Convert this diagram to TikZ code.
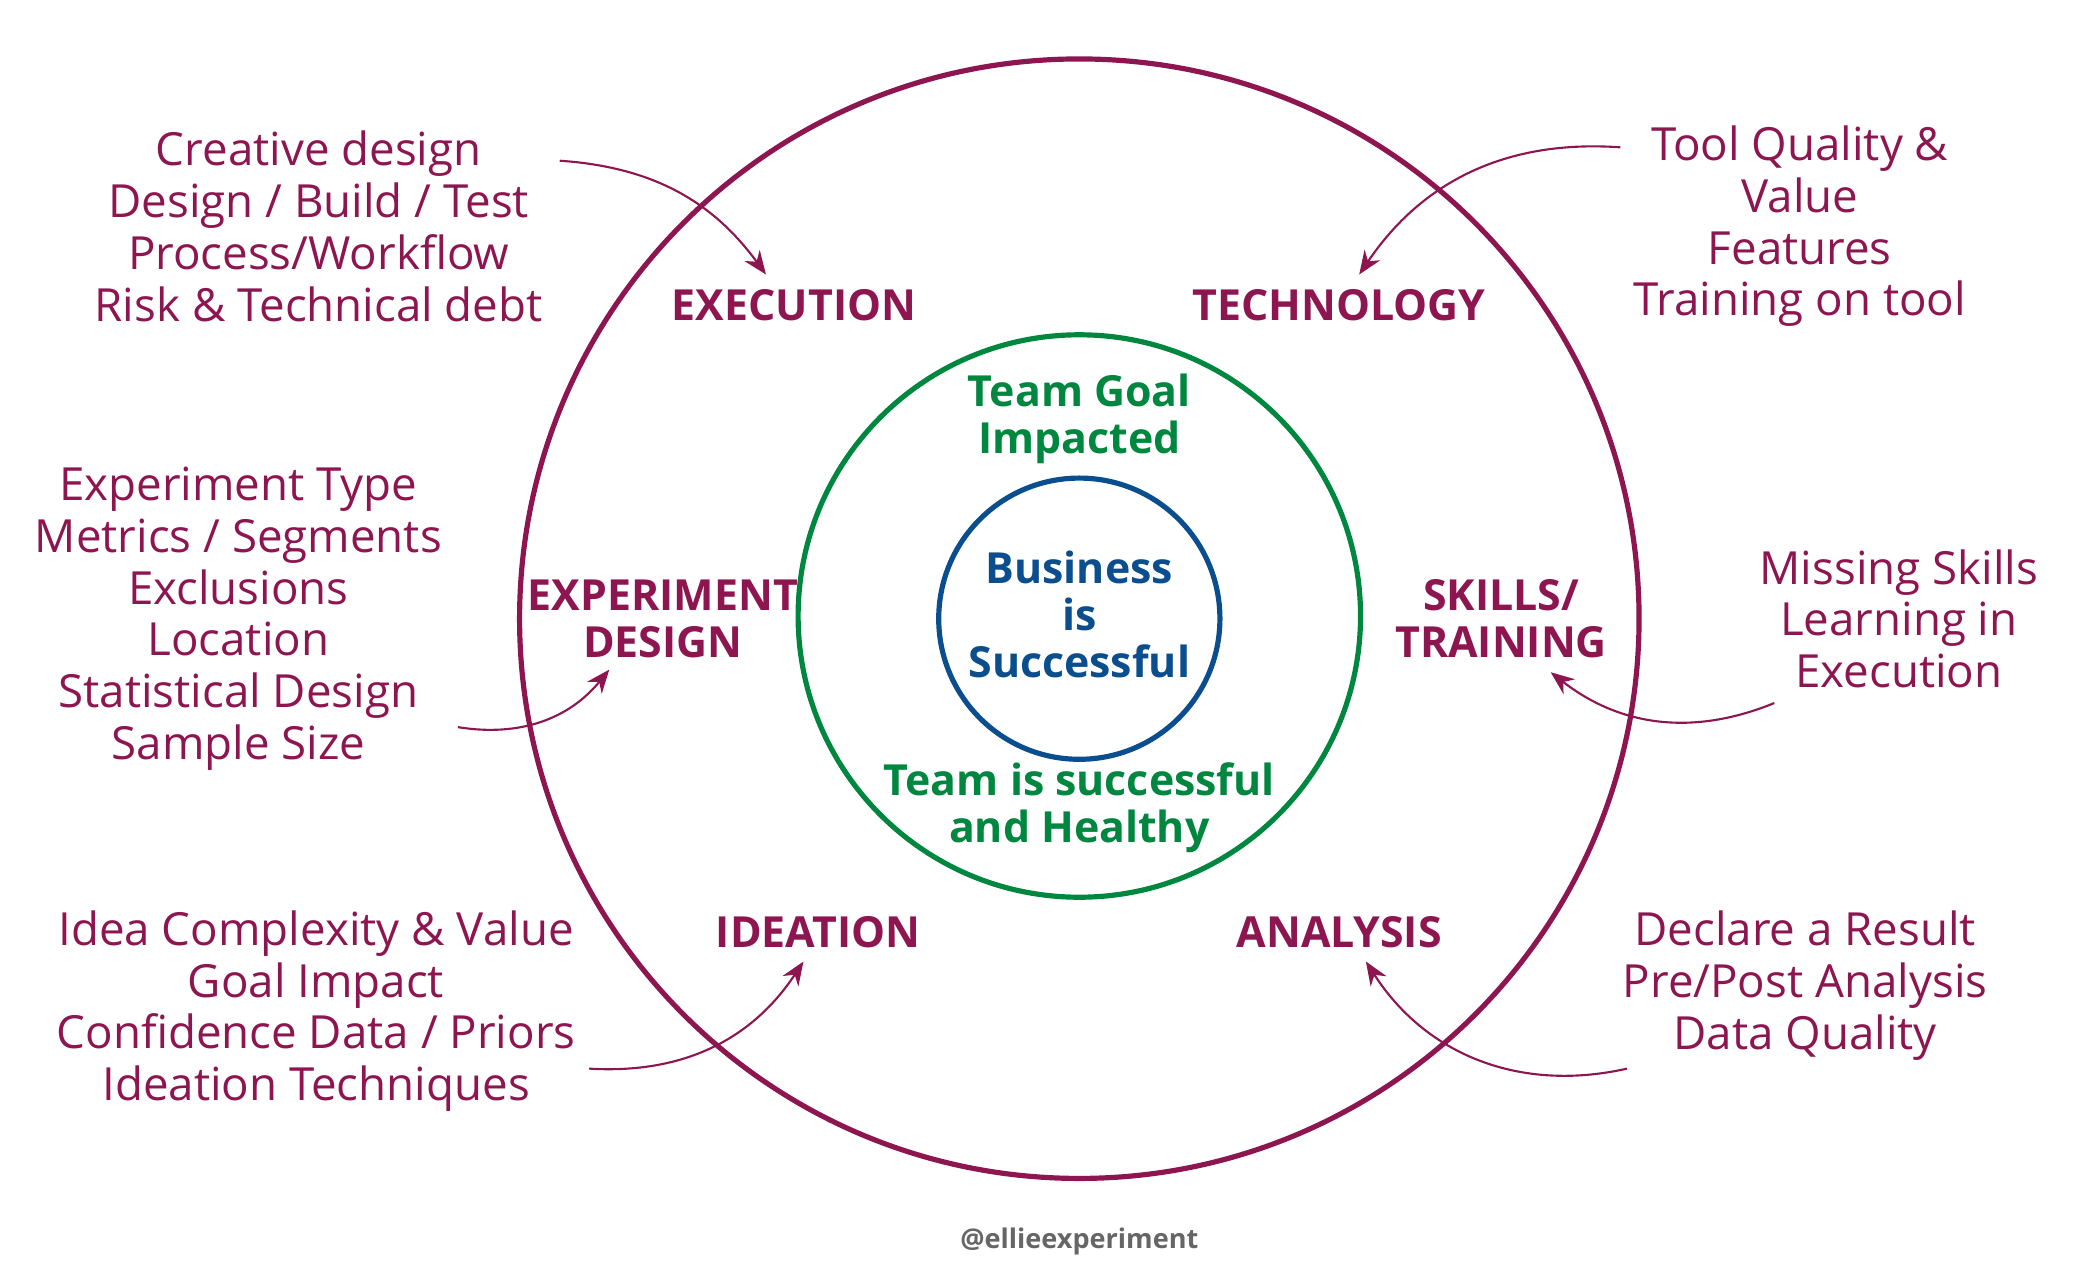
\documentclass[tikz,border=0pt]{standalone}
\usepackage{fontspec}
\setmainfont{Open Sans}
\usetikzlibrary{arrows.meta}
\definecolor{mar}{HTML}{8E1650}
\definecolor{grn}{HTML}{00873F}
\definecolor{blu}{HTML}{0B4E8E}
\begin{document}
\begin{tikzpicture}[x=0.01cm,y=-0.01cm,
  lst/.style={text=mar,align=center,font=\fontsize{9.7}{11}\selectfont},
  lab/.style={text=mar,align=center,font=\bfseries\fontsize{9.1}{10}\selectfont},
  inn/.style={align=center,font=\bfseries\fontsize{9.1}{10}\selectfont},
  arr/.style={draw=mar,line width=0.45pt,-{Stealth[length=5pt,width=4pt]}}]
\useasboundingbox (0,0) rectangle (1560,941);
\draw[mar,line width=1.1pt] (806,462) circle (418);
\draw[grn,line width=1.1pt] (806,460) circle (210);
\draw[blu,line width=1.1pt] (806,462) circle (105);
\node[lst] (lexe) at (238,169) {Creative design\\Design / Build / Test\\Process/Workflow\\Risk \& Technical debt};
\node[lst] (ltec) at (1344,169) {Tool Quality \&\\Value\\Features\\Training on tool};
\node[lst] (lexp) at (178,462) {Experiment Type\\Metrics / Segments\\Exclusions\\Location\\Statistical Design\\Sample Size};
\node[lst] (lski) at (1418,462) {Missing Skills\\Learning in\\Execution};
\node[lst] (lide) at (236,755) {Idea Complexity \& Value\\Goal Impact\\Confidence Data / Priors\\Ideation Techniques};
\node[lst] (lana) at (1348,736) {Declare a Result\\Pre/Post Analysis\\Data Quality};
\node[lab] (exe) at (593,228) {EXECUTION};
\node[lab] (tec) at (1000,228) {TECHNOLOGY};
\node[lab] (exp) at (495,462) {EXPERIMENT\\DESIGN};
\node[lab] (ski) at (1121,462) {SKILLS/\\TRAINING};
\node[lab] (ide) at (611,696) {IDEATION};
\node[lab] (ana) at (1000,696) {ANALYSIS};
\node[inn,text=grn] (tg) at (806,313) {Team Goal\\Impacted};
\node[inn,text=grn] (th) at (806,603) {Team is successful\\and Healthy};
\node[inn,text=blu] (bs) at (806,459) {Business\\is\\Successful};
\node[text=gray!80!black,font=\bfseries\fontsize{5.75}{7}\selectfont] (tag) at (806,927) {@ellieexperiment};
\coordinate (a1) at (418,120); \coordinate (b1) at (572,205);
\coordinate (a2) at (1210,110); \coordinate (b2) at (1015,205);
\coordinate (a3) at (342,543); \coordinate (b3) at (455,500);
\coordinate (a4) at (1325,525); \coordinate (b4) at (1158,502);
\coordinate (a5) at (440,798); \coordinate (b5) at (600,718);
\coordinate (a6) at (1215,798); \coordinate (b6) at (1020,718);
\draw[arr] (a1) to[bend left=25] (b1);
\draw[arr] (a2) to[bend right=30] (b2);
\draw[arr] (a3) to[bend right=30] (b3);
\draw[arr] (a4) to[bend left=30] (b4);
\draw[arr] (a5) to[bend right=30] (b5);
\draw[arr] (a6) to[bend left=35] (b6);
\end{tikzpicture}
\end{document}
